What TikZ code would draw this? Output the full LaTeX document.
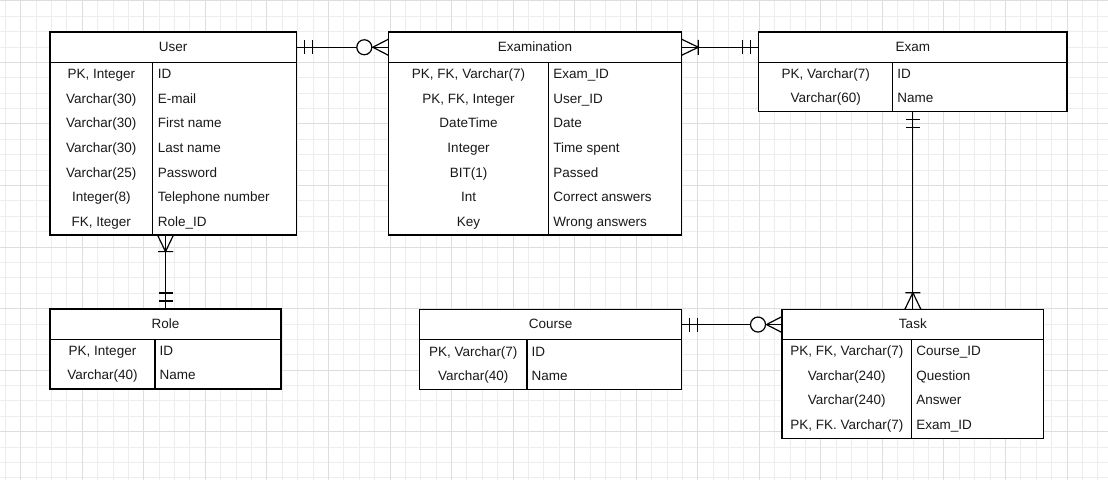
\documentclass[tikz,border=0pt]{standalone}
\usepackage{fontspec}
\setmainfont{Liberation Sans}
\begin{document}
\begin{tikzpicture}[x=1pt,y=-1pt,
  box/.style={draw=black, line width=1.2pt, fill=white, inner sep=0pt, outer sep=0pt, anchor=north west, rectangle},
  txt/.style={font=\fontsize{13.5}{16}\selectfont, text=black!90, text height=12.5pt, text depth=2pt, inner sep=0pt},
  lft/.style={txt, anchor=center},
  rgt/.style={txt, anchor=west},
  ttl/.style={txt, anchor=center, yshift=1.3pt},
  conn/.style={line width=1.2pt, draw=black},
  minorgrid/.style={draw=black!7, line width=0.9pt},
  majorgrid/.style={draw=black!13, line width=0.9pt},
  mandone/.pic={\draw[conn] (8,-7) -- (8,7) (16,-7) -- (16,7);},
  onemany/.pic={\draw[conn] (0,-8) -- (16.6,0) -- (0,8) (16.6,-7.5) -- (16.6,7.5);},
  zeromany/.pic={\draw[conn] (0,-8) -- (15.5,0) -- (0,8); \draw[conn, fill=white] (24,0) circle (7.5pt);}
]
\useasboundingbox (0,0) rectangle (1108,480);
\fill[white] (0,0) rectangle (1108,480);
% grid
\foreach \i in {-1,...,71} \draw[minorgrid] ({20.67+\i*15.3875},0) -- ({20.67+\i*15.3875},480);
\foreach \j in {0,...,31} \draw[minorgrid] (0,{0.82+\j*15.3875}) -- (1108,{0.82+\j*15.3875});
\foreach \i in {0,...,17} \draw[majorgrid] ({20.67+\i*61.55},0) -- ({20.67+\i*61.55},480);
\foreach \j in {0,...,7} \draw[majorgrid] (0,{0.82+\j*61.55}) -- (1108,{0.82+\j*61.55});

% ---------- User ----------
\node[box, minimum width=246.3pt, minimum height=30.5pt] (userH) at (50,32) {};
\node[box, minimum width=102.7pt, minimum height=172.5pt] (userL) at (50,62.5) {};
\node[box, minimum width=143.6pt, minimum height=172.5pt] (userR) at (152.7,62.5) {};
\node[ttl] (userT) at (userH.center) {User};
\node[lft] (userL1) at (101.35,73.3) {PK, Integer};
\node[lft] (userL2) at (101.35,97.9) {Varchar(30)};
\node[lft] (userL3) at (101.35,122.5) {Varchar(30)};
\node[lft] (userL4) at (101.35,147.2) {Varchar(30)};
\node[lft] (userL5) at (101.35,171.8) {Varchar(25)};
\node[lft] (userL6) at (101.35,196.4) {Integer(8)};
\node[lft] (userL7) at (101.35,221.0) {FK, Iteger};
\node[rgt] (userR1) at (157.7,73.3) {ID};
\node[rgt] (userR2) at (157.7,97.9) {E-mail};
\node[rgt] (userR3) at (157.7,122.5) {First name};
\node[rgt] (userR4) at (157.7,147.2) {Last name};
\node[rgt] (userR5) at (157.7,171.8) {Password};
\node[rgt] (userR6) at (157.7,196.4) {Telephone number};
\node[rgt] (userR7) at (157.7,221.0) {Role\_ID};

% ---------- Examination ----------
\node[box, minimum width=293.4pt, minimum height=30.5pt] (examinationH) at (388.3,32) {};
\node[box, minimum width=160.4pt, minimum height=172.5pt] (examinationL) at (388.3,62.5) {};
\node[box, minimum width=133pt, minimum height=172.5pt] (examinationR) at (548.7,62.5) {};
\node[ttl] (examinationT) at (examinationH.center) {Examination};
\node[lft] (examinationL1) at (468.5,73.3) {PK, FK, Varchar(7)};
\node[lft] (examinationL2) at (468.5,97.9) {PK, FK, Integer};
\node[lft] (examinationL3) at (468.5,122.5) {DateTime};
\node[lft] (examinationL4) at (468.5,147.2) {Integer};
\node[lft] (examinationL5) at (468.5,171.8) {BIT(1)};
\node[lft] (examinationL6) at (468.5,196.4) {Int};
\node[lft] (examinationL7) at (468.5,221.0) {Key};
\node[rgt] (examinationR1) at (553.2,73.3) {Exam\_ID};
\node[rgt] (examinationR2) at (553.2,97.9) {User\_ID};
\node[rgt] (examinationR3) at (553.2,122.5) {Date};
\node[rgt] (examinationR4) at (553.2,147.2) {Time spent};
\node[rgt] (examinationR5) at (553.2,171.8) {Passed};
\node[rgt] (examinationR6) at (553.2,196.4) {Correct answers};
\node[rgt] (examinationR7) at (553.2,221.0) {Wrong answers};

% ---------- Exam ----------
\node[box, minimum width=308.3pt, minimum height=30.5pt] (examH) at (758.7,32) {};
\node[box, minimum width=134pt, minimum height=48.8pt] (examL) at (758.7,62.5) {};
\node[box, minimum width=174.3pt, minimum height=48.8pt] (examR) at (892.7,62.5) {};
\node[ttl] (examT) at (examH.center) {Exam};
\node[lft] (examL1) at (825.7,72.8) {PK, Varchar(7)};
\node[lft] (examL2) at (825.7,97.4) {Varchar(60)};
\node[rgt] (examR1) at (897.2,72.8) {ID};
\node[rgt] (examR2) at (897.2,97.4) {Name};

% ---------- Role ----------
\node[box, minimum width=231pt, minimum height=30.5pt] (roleH) at (50,309) {};
\node[box, minimum width=105pt, minimum height=49.5pt] (roleL) at (50,339.5) {};
\node[box, minimum width=126pt, minimum height=49.5pt] (roleR) at (155,339.5) {};
\node[ttl] (roleT) at (roleH.center) {Role};
\node[lft] (roleL1) at (102.5,350.3) {PK, Integer};
\node[lft] (roleL2) at (102.5,374.6) {Varchar(40)};
\node[rgt] (roleR1) at (159.5,350.3) {ID};
\node[rgt] (roleR2) at (159.5,374.6) {Name};

% ---------- Course ----------
\node[box, minimum width=262pt, minimum height=30.5pt] (courseH) at (419.7,309.3) {};
\node[box, minimum width=107.3pt, minimum height=49.5pt] (courseL) at (419.7,339.8) {};
\node[box, minimum width=154.7pt, minimum height=49.5pt] (courseR) at (527,339.8) {};
\node[ttl] (courseT) at (courseH.center) {Course};
\node[lft] (courseL1) at (473.35,351) {PK, Varchar(7)};
\node[lft] (courseL2) at (473.35,375.6) {Varchar(40)};
\node[rgt] (courseR1) at (531.5,351) {ID};
\node[rgt] (courseR2) at (531.5,375.6) {Name};

% ---------- Task ----------
\node[box, minimum width=261.7pt, minimum height=30.5pt] (taskH) at (782,309.3) {};
\node[box, minimum width=129.7pt, minimum height=98.4pt] (taskL) at (782,339.8) {};
\node[box, minimum width=132pt, minimum height=98.4pt] (taskR) at (911.7,339.8) {};
\node[ttl] (taskT) at (taskH.center) {Task};
\node[lft] (taskL1) at (846.85,350.3) {PK, FK, Varchar(7)};
\node[lft] (taskL2) at (846.85,374.9) {Varchar(240)};
\node[lft] (taskL3) at (846.85,399.5) {Varchar(240)};
\node[lft] (taskL4) at (846.85,424.1) {PK, FK. Varchar(7)};
\node[rgt] (taskR1) at (916.2,350.3) {Course\_ID};
\node[rgt] (taskR2) at (916.2,374.9) {Question};
\node[rgt] (taskR3) at (916.2,399.5) {Answer};
\node[rgt] (taskR4) at (916.2,424.1) {Exam\_ID};

% ---------- Connectors ----------
\coordinate (userBot) at (roleH.north |- userR.south);
\coordinate (examBot) at (taskH.north |- examR.south);

\draw[conn] (userH.east) -- (examinationH.west);
\pic at (userH.east) {mandone};
\pic[rotate=180] at (examinationH.west) {zeromany};

\draw[conn] (examinationH.east) -- (examH.west);
\pic at (examinationH.east) {onemany};
\pic[rotate=180] at (examH.west) {mandone};

\draw[conn] (userBot) -- (roleH.north);
\pic[rotate=-90] at (userBot) {onemany};
\pic[rotate=90] at (roleH.north) {mandone};

\draw[conn] (examBot) -- (taskH.north);
\pic[rotate=-90] at (examBot) {mandone};
\pic[rotate=90] at (taskH.north) {onemany};

\draw[conn] (courseH.east) -- (taskH.west);
\pic at (courseH.east) {mandone};
\pic[rotate=180] at (taskH.west) {zeromany};
\end{tikzpicture}
\end{document}
